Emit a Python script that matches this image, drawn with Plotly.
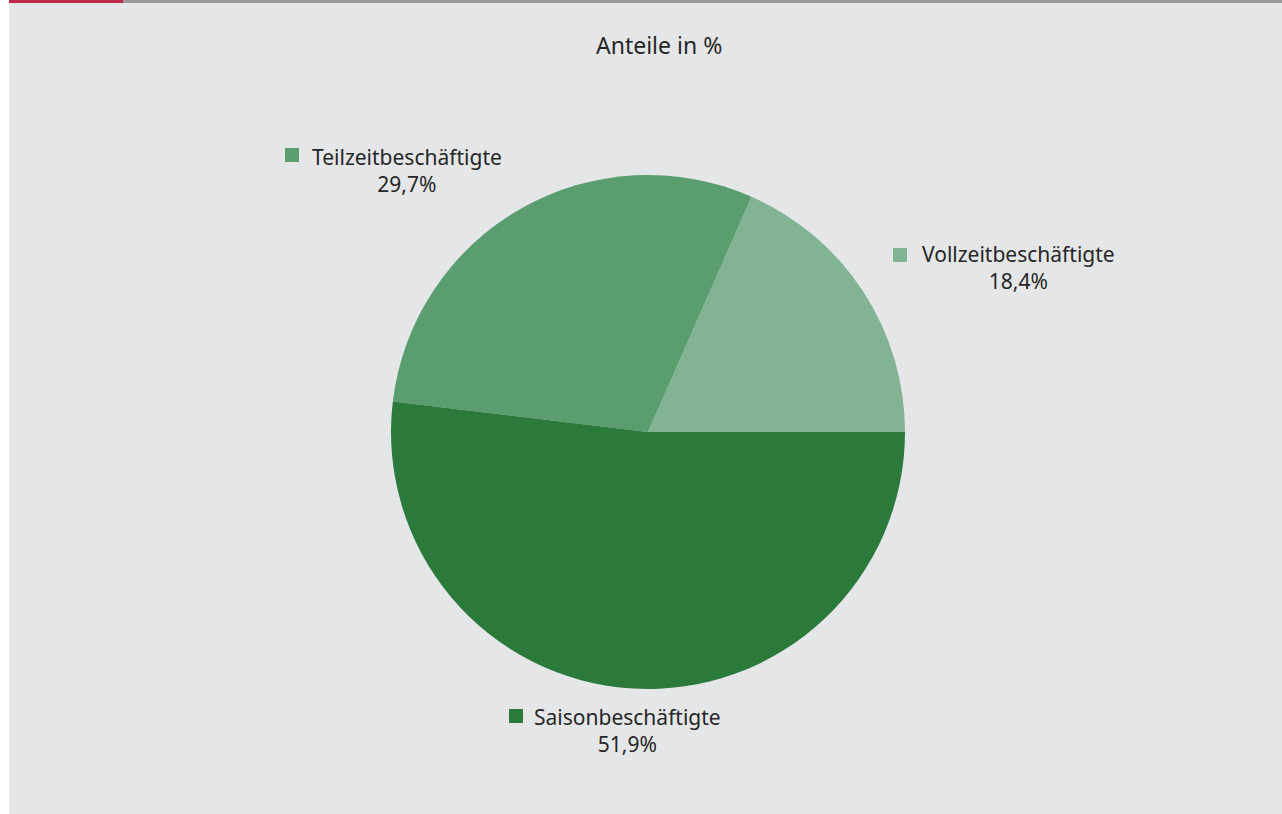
import plotly.graph_objects as go

# Beschäftigte nach Art der Beschäftigung
categories = ["Vollzeitbeschäftigte", "Teilzeitbeschäftigte", "Saisonbeschäftigte"]
shares = [18.4, 29.7, 51.9]
colors = ["#82b393", "#5a9e70", "#2b7a3c"]
title_text = "Anteile in %"

W, H = 1282, 814
BG = "#e5e6e8"
TEXT = "#262626"
FONT = "Noto Sans"
FSIZE = 21

# label block centres (px) and key-square left/top (px), in category order
label_centres = [(1018, 268), (407, 170), (627, 730)]
key_squares = [(893, 248), (285, 148), (509, 709)]
KEY = 14


def px_x(x):
    return x / W


def px_y(y):
    return 1 - y / H


def fmt(v):
    return f"{v:.1f}".replace(".", ",") + "%"


# first slice starts at 3 o'clock and slices run counterclockwise;
# plotly anchors the end of the first slice at `rotation` in that mode
first_angle = 360 * shares[0] / sum(shares)
rotation = 90 - first_angle

# pie: centre (648, 432), radius 257
cx, cy, r = 648, 432, 257
fig = go.Figure(
    go.Pie(
        labels=categories,
        values=shares,
        marker=dict(colors=colors, line=dict(width=0)),
        sort=False,
        direction="counterclockwise",
        rotation=rotation,
        textinfo="none",
        textposition="none",
        hoverinfo="label+percent",
        showlegend=False,
        domain=dict(x=[px_x(cx - r), px_x(cx + r)], y=[px_y(cy + r), px_y(cy - r)]),
    )
)

shapes = [
    # white strip on the left edge
    dict(type="rect", xref="paper", yref="paper", x0=0, x1=px_x(9), y0=0, y1=1,
         fillcolor="white", line=dict(width=0), layer="above"),
    # top rule: red accent followed by grey line
    dict(type="rect", xref="paper", yref="paper", x0=px_x(9), x1=px_x(123),
         y0=px_y(3), y1=1, fillcolor="#c0284c", line=dict(width=0), layer="above"),
    dict(type="rect", xref="paper", yref="paper", x0=px_x(123), x1=1,
         y0=px_y(3), y1=1, fillcolor="#999999", line=dict(width=0), layer="above"),
]

annotations = [
    dict(text=title_text, x=px_x(659), y=px_y(45), xref="paper", yref="paper",
         xanchor="center", yanchor="middle", showarrow=False,
         font=dict(family=FONT, size=23, color=TEXT)),
]

for name, val, col, (lx, ly), (sx, sy) in zip(categories, shares, colors,
                                                 label_centres, key_squares):
    annotations.append(
        dict(text=f"{name}<br>{fmt(val)}", x=px_x(lx), y=px_y(ly),
             xref="paper", yref="paper", xanchor="center", yanchor="middle",
             align="center", showarrow=False,
             font=dict(family=FONT, size=FSIZE, color=TEXT))
    )
    shapes.append(
        dict(type="rect", xref="paper", yref="paper", x0=px_x(sx), x1=px_x(sx + KEY),
             y0=px_y(sy + KEY), y1=px_y(sy), fillcolor=col, line=dict(width=0))
    )

fig.update_layout(
    width=W,
    height=H,
    margin=dict(l=0, r=0, t=0, b=0),
    paper_bgcolor=BG,
    plot_bgcolor=BG,
    shapes=shapes,
    annotations=annotations,
)

fig.write_html("out.html")
